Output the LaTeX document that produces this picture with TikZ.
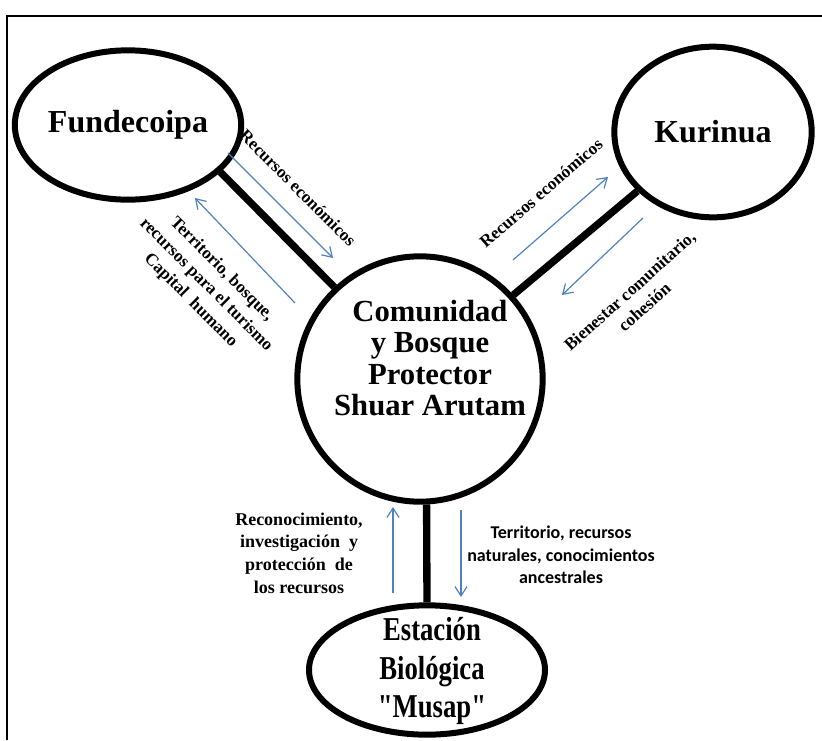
\documentclass[tikz,border=0pt]{standalone}
\usepackage{fontspec}
\setmainfont{Liberation Serif}
\newfontfamily\calibrifont{Carlito}
\newfontfamily\narrowfont[FakeStretch=0.8]{Liberation Serif}
\usetikzlibrary{shapes.geometric,arrows.meta}
\definecolor{flowblue}{RGB}{79,129,189}
\begin{document}
\begin{tikzpicture}[x=0.75pt,y=-0.75pt,
    actor/.style={draw,ellipse,line width=4.5pt,inner sep=0pt,font=\bfseries\fontsize{24}{26}\selectfont},
    hub/.style={draw,circle,line width=4.5pt,inner sep=0pt,minimum size=184pt},
    link/.style={line width=5.5pt},
    flow/.style={draw=flowblue,line width=0.9pt,-{Straight Barb[length=7pt,width=9pt]}},
    lbl/.style={font=\bfseries\fontsize{13}{16.5}\selectfont,align=center,inner sep=0pt}]
  \useasboundingbox (0,0) rectangle (822,740);
  \draw[line width=2.2pt] (7,740) -- (7,16) -- (822,16);
  \node[actor,minimum width=149pt,minimum height=112pt] (fun) at (128,125) {Fundecoipa};
  \node[actor,minimum width=148pt,minimum height=128pt] (kur) at (713,132) {Kurinua};
  \node[hub] (com) at (420,379) {};
  \node[align=center,font=\bfseries\fontsize{23}{23.5}\selectfont] (comtxt) at (430,358) {Comunidad\\y Bosque\\Protector\\Shuar Arutam};
  \node[actor,minimum width=177pt,minimum height=97pt] (mus) at (427,670) {};
  \node[align=center,inner sep=0pt,font=\narrowfont\bfseries\fontsize{25}{29}\selectfont] (mustxt) at (432,671) {Estación\\Biológica\\"Musap"};
  \draw[link] (fun.-27) -- (com.133.5);
  \draw[link] (kur.218) -- (com.42);
  \draw[link] (com.-87) -- (mus.north);
  \coordinate (f1) at (228,153); \coordinate (f2) at (333,258);
  \coordinate (f3) at (295,303); \coordinate (f4) at (195,198);
  \coordinate (k1) at (513,260); \coordinate (k2) at (608,177);
  \coordinate (k3) at (643,218); \coordinate (k4) at (562,295);
  \coordinate (m1) at (393,593); \coordinate (m2) at (393,507);
  \coordinate (m3) at (461,510); \coordinate (m4) at (461,597);
  \draw[flow] (f1) -- (f2);
  \draw[flow] (f3) -- (f4);
  \draw[flow] (k1) -- (k2);
  \draw[flow] (k3) -- (k4);
  \draw[flow] (m1) -- (m2);
  \draw[flow] (m3) -- (m4);
  \node[lbl,rotate=-45] (funin) at (298,188) {Recursos económicos};
  \node[lbl,rotate=-45] (funout) at (206,285) {Territorio, bosque,\\recursos para el turismo\\Capital\ \ humano};
  \node[lbl,rotate=41] (kurin) at (541,193) {Recursos económicos};
  \node[lbl,rotate=42] (kurout) at (637,299) {Bienestar comunitario,\\cohesión};
  \node[lbl,font=\bfseries\fontsize{13.5}{17}\selectfont] (musin) at (299,553) {Reconocimiento,\\investigación\ \ y\\protección\ \ de\\los recursos};
  \node[lbl,font=\calibrifont\bfseries\fontsize{13.5}{17}\selectfont] (musout) at (561,555) {Territorio, recursos\\naturales, conocimientos\\ancestrales};
\end{tikzpicture}
\end{document}
